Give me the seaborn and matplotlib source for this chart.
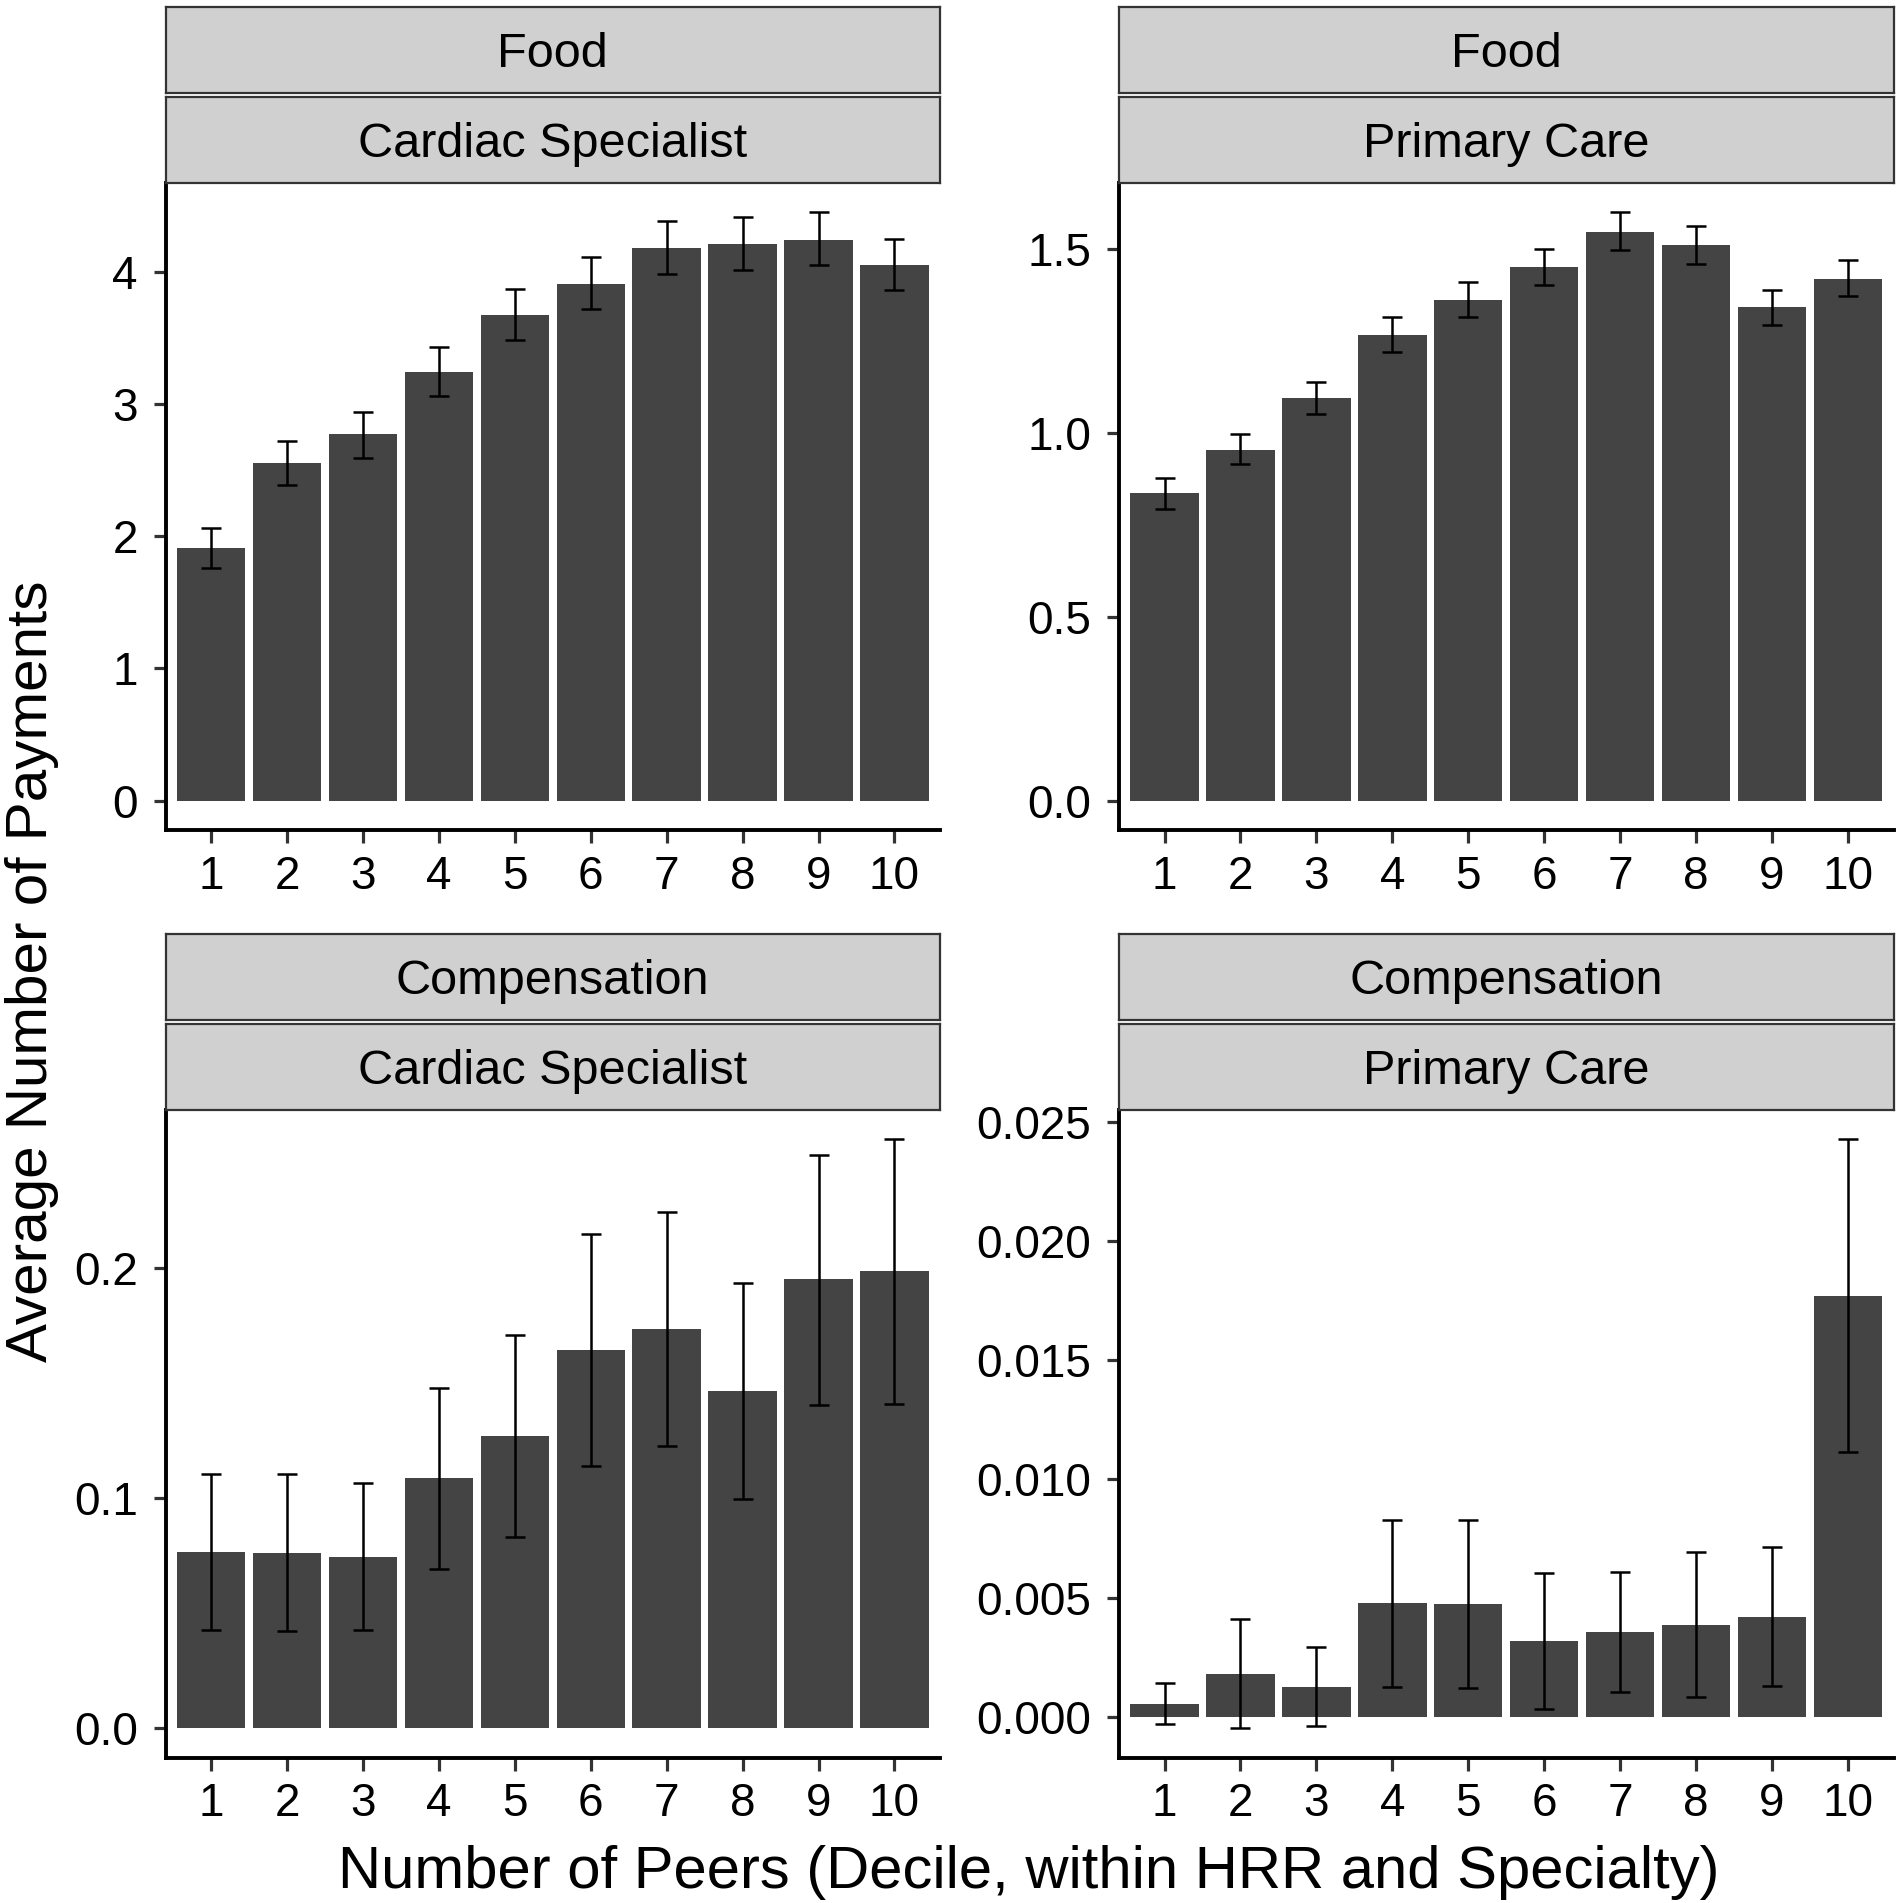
import numpy as np
import pandas as pd
import seaborn as sns
import matplotlib.pyplot as plt

# decile of number of peers
deciles = [str(i) for i in range(1, 11)]

# Food / Cardiac Specialist
food_cardiac = [1.91, 2.55, 2.77, 3.24, 3.67, 3.91, 4.18, 4.21, 4.24, 4.05]
food_cardiac_lo = [1.76, 2.39, 2.59, 3.06, 3.48, 3.72, 3.98, 4.01, 4.05, 3.86]
food_cardiac_hi = [2.06, 2.72, 2.94, 3.43, 3.87, 4.11, 4.38, 4.41, 4.45, 4.25]

# Food / Primary Care
food_primary = [0.836, 0.953, 1.095, 1.265, 1.361, 1.450, 1.546, 1.510, 1.340, 1.418]
food_primary_lo = [0.793, 0.914, 1.051, 1.219, 1.313, 1.400, 1.495, 1.458, 1.292, 1.370]
food_primary_hi = [0.876, 0.995, 1.138, 1.314, 1.410, 1.500, 1.599, 1.562, 1.388, 1.468]

# Compensation / Cardiac Specialist
comp_cardiac = [0.0763, 0.0761, 0.0743, 0.1086, 0.1268, 0.1642, 0.1733, 0.1464, 0.1950, 0.1985]
comp_cardiac_lo = [0.0424, 0.0422, 0.0424, 0.0691, 0.0831, 0.1138, 0.1224, 0.0997, 0.1404, 0.1408]
comp_cardiac_hi = [0.1102, 0.1102, 0.1065, 0.1479, 0.1708, 0.2145, 0.2244, 0.1934, 0.2492, 0.2558]

# Compensation / Primary Care
comp_primary = [0.00056, 0.00181, 0.00129, 0.00479, 0.00475, 0.00320, 0.00357, 0.00387, 0.00423, 0.01769]
comp_primary_lo = [-0.00030, -0.00045, -0.00037, 0.00127, 0.00122, 0.00036, 0.00105, 0.00084, 0.00131, 0.01113]
comp_primary_hi = [0.00144, 0.00411, 0.00297, 0.00830, 0.00830, 0.00606, 0.00611, 0.00694, 0.00716, 0.02425]

sns.set_style("ticks")
plt.rcParams['font.family'] = ['Liberation Sans', 'DejaVu Sans']
plt.rcParams['text.color'] = 'black'

panels = [
    (0, 0, 'Food', 'Cardiac Specialist', food_cardiac, food_cardiac_lo, food_cardiac_hi,
     [0, 1, 2, 3, 4], '{:.0f}'),
    (0, 1, 'Food', 'Primary Care', food_primary, food_primary_lo, food_primary_hi,
     [0.0, 0.5, 1.0, 1.5], '{:.1f}'),
    (1, 0, 'Compensation', 'Cardiac Specialist', comp_cardiac, comp_cardiac_lo, comp_cardiac_hi,
     [0.0, 0.1, 0.2], '{:.1f}'),
    (1, 1, 'Compensation', 'Primary Care', comp_primary, comp_primary_lo, comp_primary_hi,
     [0.0, 0.005, 0.010, 0.015, 0.020, 0.025], '{:.3f}'),
]

W, H = 1900, 1903
fig = plt.figure(figsize=(W / 100, H / 100), dpi=100)

col_left = [165.5, 1119]
panel_w = 774.5
row_top = [182.7, 1110]
panel_h = 647.5
strip_h = 86
strip_gap = 4

for row, col, top_lab, sub_lab, mean, lo, hi, yticks, fmt in panels:
    x0 = col_left[col]
    y0 = row_top[row]
    ax = fig.add_axes([x0 / W, 1 - (y0 + panel_h) / H, panel_w / W, panel_h / H])
    df = pd.DataFrame({'decile': deciles, 'value': mean})
    sns.barplot(data=df, x='decile', y='value', color='#444444', saturation=1,
                width=0.9, errorbar=None, edgecolor='none', ax=ax)
    m = np.array(mean)
    ax.errorbar(np.arange(len(deciles)), m,
                yerr=[m - np.array(lo), np.array(hi) - m],
                fmt='none', ecolor='black', elinewidth=1.8, capsize=7, capthick=1.8)
    ymin = min(0, min(lo))
    ymax = max(hi)
    pad = 0.05 * (ymax - ymin)
    ax.set_ylim(ymin - pad, ymax + pad)
    ax.set_xlim(-0.6, 9.6)
    ax.set_yticks(yticks)
    ax.set_yticklabels([fmt.format(v) for v in yticks])
    ax.set_xlabel('')
    ax.set_ylabel('')
    for s in ['top', 'right']:
        ax.spines[s].set_visible(False)
    for s in ['left', 'bottom']:
        ax.spines[s].set_linewidth(2.8)
        ax.spines[s].set_color('black')
    ax.tick_params(axis='both', length=9, width=2.3, color='#333333',
                   labelsize=33, labelcolor='black', pad=9)
    ax.tick_params(axis='y', pad=11)

    # facet strips
    for i, lab in enumerate([top_lab, sub_lab]):
        sy = y0 - (2 - i) * strip_h - (1 - i) * strip_gap
        sax = fig.add_axes([x0 / W, 1 - (sy + strip_h) / H, panel_w / W, strip_h / H])
        sax.set_facecolor('#D0D0D0')
        sax.set_xticks([])
        sax.set_yticks([])
        for s in sax.spines.values():
            s.set_color('#333333')
            s.set_linewidth(1.6)
            s.set_visible(True)
        sax.text(0.5, 0.5, lab, ha='center', va='center_baseline', fontsize=35,
                 color='black', transform=sax.transAxes)

fig.text((165.5 + 1893) / 2 / W, 0.016, 'Number of Peers (Decile, within HRR and Specialty)',
         ha='center', va='center', fontsize=43, color='black')
fig.text(32 / W, 1 - 971 / H, 'Average Number of Payments', ha='center', va='center',
         rotation=90, fontsize=42, color='black')

fig.savefig('out.png', dpi=100)
